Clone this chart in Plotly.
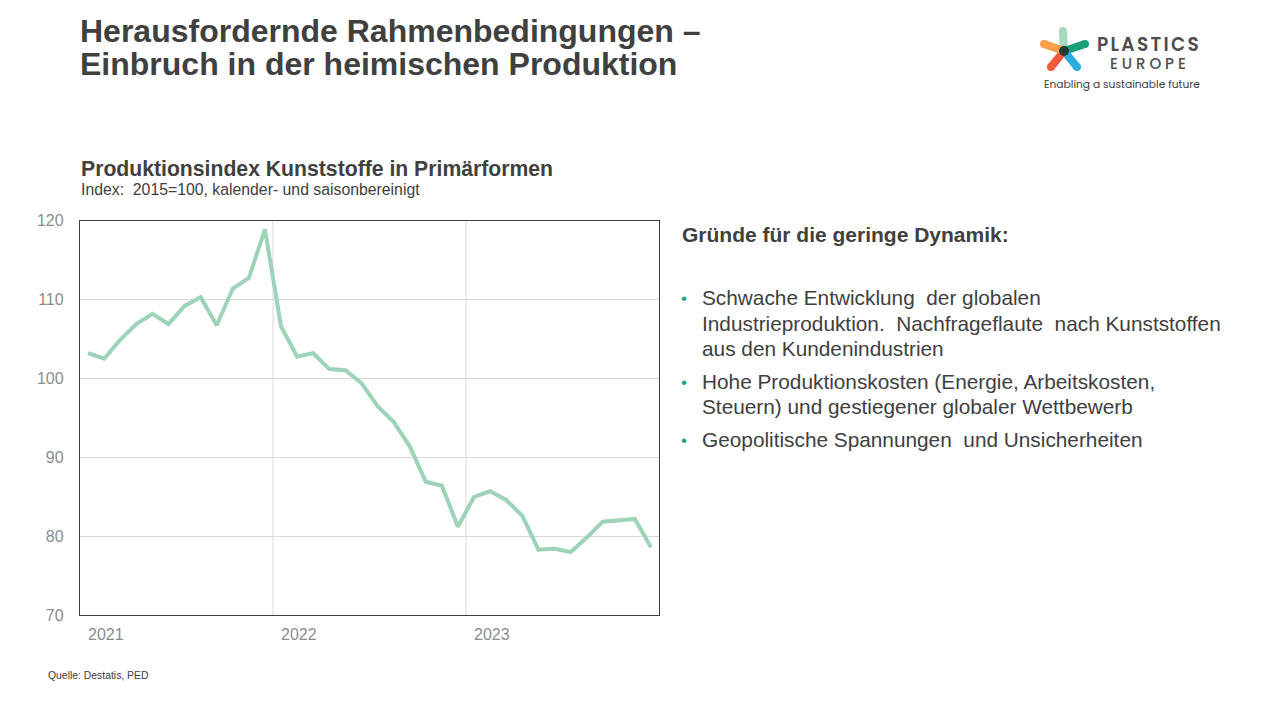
import plotly.graph_objects as go

# ---------------- data ----------------
months = list(range(36))  # Jan 2021 .. Dec 2023
index_values = [103.2, 102.5, 104.9, 106.9, 108.2, 106.9, 109.2, 110.3, 106.75, 111.4, 112.75, 118.9,
                106.6, 102.8, 103.2, 101.2, 101.05, 99.4, 96.5, 94.5, 91.4, 86.9, 86.4, 81.2,
                85.0, 85.7, 84.6, 82.6, 78.3, 78.4, 78.0, 79.8, 81.85, 82.05, 82.2, 78.6]
year_labels = ["2021", "2022", "2023"]
year_start_idx = [0, 12, 24]
year_boundaries = [11.5, 23.5]
y_ticks = [70, 80, 90, 100, 110, 120]

title_lines = ["Herausfordernde Rahmenbedingungen –", "Einbruch in der heimischen Produktion"]
chart_title = "Produktionsindex Kunststoffe in Primärformen"
chart_subtitle = "Index:  2015=100, kalender- und saisonbereinigt"
source_text = "Quelle: Destatis, PED"
reasons_heading = "Gründe für die geringe Dynamik:"
bullets = [
    ["Schwache Entwicklung\u00a0 der globalen",
     "Industrieproduktion.\u00a0 Nachfrageflaute\u00a0 nach Kunststoffen",
     "aus den Kundenindustrien"],
    ["Hohe Produktionskosten (Energie, Arbeitskosten,",
     "Steuern) und gestiegener globaler Wettbewerb"],
    ["Geopolitische Spannungen\u00a0 und Unsicherheiten"],
]

# ---------------- layout helpers ----------------
W, H = 1280, 720
FONT = "Arial, Liberation Sans, sans-serif"
DARK = "#404040"
Y_OFF, Y_SPAN = 8, 704   # vertical placement as observed in the rendered page
def px(x): return x / W
def py(y): return 1 - (y - Y_OFF) / Y_SPAN

fig = go.Figure()
fig.add_trace(go.Scatter(x=months, y=index_values, mode="lines",
                         line=dict(color="#9dd3b8", width=4), hoverinfo="skip",
                         showlegend=False))

fig.update_layout(
    width=W, height=H, margin=dict(l=0, r=0, t=0, b=0),
    paper_bgcolor="white", plot_bgcolor="rgba(0,0,0,0)",
    font=dict(family=FONT, color=DARK),
    xaxis=dict(domain=[px(80), px(659)], range=[-0.5, 35.5], showticklabels=False,
               showgrid=False, zeroline=False, showline=True, mirror=True,
               linecolor=DARK, linewidth=1.3, ticks=""),
    yaxis=dict(domain=[py(616), py(221)], range=[70, 120], tickvals=y_ticks,
               showgrid=True, gridcolor="#d9d9d9", gridwidth=1, zeroline=False,
               showline=True, mirror=True, linecolor=DARK, linewidth=1.3,
               ticks="", ticklabelstandoff=12,
               tickfont=dict(size=16, color="#8c8c8c", family=FONT)),
    xaxis2=dict(domain=[0, 1], range=[0, W], visible=False, fixedrange=True),
    yaxis2=dict(domain=[0, 1], range=[Y_OFF + Y_SPAN, Y_OFF], visible=False,
                fixedrange=True, anchor="x2"),
)

# vertical year boundary gridlines
for b in year_boundaries:
    fig.add_shape(type="line", xref="x", yref="y", x0=b, x1=b, y0=70, y1=120,
                  line=dict(color="#d9d9d9", width=1), layer="below")

# year labels
for lab, idx in zip(year_labels, year_start_idx):
    fig.add_annotation(x=idx, xref="x", y=py(635), yref="paper", text=lab,
                       xanchor="left", yanchor="middle", showarrow=False,
                       xshift=-2, font=dict(size=16, color="#8c8c8c", family=FONT))

ann = []
def text(x, y, t, size, bold=False, color=DARK, xanchor="left", family=FONT, weight=None):
    w = weight if weight is not None else ("bold" if bold else "normal")
    ann.append(dict(x=px(x), y=py(y), xref="paper", yref="paper", text=t, showarrow=False,
                    xanchor=xanchor, yanchor="middle", align="center" if xanchor == "center" else "left",
                    font=dict(size=size, color=color, family=family, weight=w)))

text(78, 31, title_lines[0], 32, bold=True)
text(78, 64, title_lines[1], 32, bold=True)
text(79, 169, chart_title, 21.2, bold=True)
text(79, 190, chart_subtitle, 15.8)
text(46, 676, source_text, 10.4)

text(680, 235, reasons_heading, 21, bold=True)
line_y = [[298, 324, 349], [382, 407], [440]]
for lines, ys in zip(bullets, line_y):
    text(679, ys[0] + 1, "•", 17, color="#1aa58b")
    for ln, yy in zip(lines, ys):
        text(700, yy, ln, 20.8)

# logo text
LOGO_FONT = "Poppins, Lato, Open Sans, sans-serif"
hs = "\u200a\u200a"
text(1148, 53,
     "<span style='font-size:18.5px;font-weight:600'>" + hs.join("PLASTICS") + "</span><br>"
     "<span style='font-size:15px;font-weight:500'>" + "\u2009\u200a".join("EUROPE") + "</span>",
     14, color="#4d4d4d", xanchor="center", family=LOGO_FONT, weight=500)
text(1122, 85, "Enabling a sustainable future", 10.7, color="#3d3d3d",
     xanchor="center", family=LOGO_FONT)
fig.update_layout(annotations=list(fig.layout.annotations) + ann)

# logo star
cx, cy = 1064, 51
petals = [
    ((1063, 31), "#a8d8c0"),
    ((1085, 44), "#17a07b"),
    ((1077, 67), "#2aaee2"),
    ((1051, 67), "#f25a3c"),
    ((1044, 44), "#f9a04b"),
]
for (ex, ey), col in petals:
    fig.add_shape(type="line", xref="x2", yref="y2", x0=cx, y0=cy, x1=ex, y1=ey,
                  line=dict(color=col, width=8))
    fig.add_shape(type="circle", xref="x2", yref="y2", x0=ex - 4, x1=ex + 4,
                  y0=ey - 4, y1=ey + 4, line=dict(width=0), fillcolor=col)
fig.add_shape(type="circle", xref="x2", yref="y2", x0=cx - 5, x1=cx + 5, y0=cy - 5, y1=cy + 5,
              line=dict(width=0), fillcolor="#1e3b34")

fig.write_html("out.html")
